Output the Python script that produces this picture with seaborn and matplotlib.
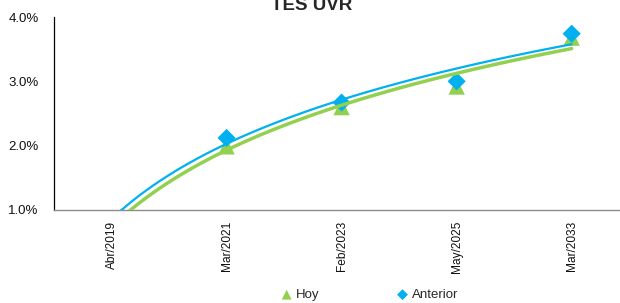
import numpy as np
import pandas as pd
import matplotlib
matplotlib.use("Agg")
import matplotlib.pyplot as plt
import seaborn as sns
from matplotlib.ticker import FuncFormatter

# data (percent); Abr/2019 sits below the 1% floor
fechas = ["Abr/2019", "Mar/2021", "Feb/2023", "May/2025", "Mar/2033"]
hoy = [0.74, 1.99, 2.60, 2.92, 3.68]
anterior = [0.85, 2.12, 2.67, 3.00, 3.74]

VERDE = "#92D050"
AZUL = "#00B0F0"

sns.set_style("white")
plt.rcParams["font.family"] = ["Liberation Sans", "DejaVu Sans"]

df = pd.DataFrame({"pos": np.arange(len(fechas)), "fecha": fechas,
                   "Hoy": hoy, "Anterior": anterior})


def log_trend(y):
    # Excel style logarithmic trendline: y = a*ln(x) + b with x = 1..n
    x = np.arange(1, len(y) + 1)
    a, b = np.polyfit(np.log(x), y, 1)
    xs = np.linspace(1, len(y), 200)
    return pd.DataFrame({"pos": xs - 1, "val": a * np.log(xs) + b})


fig = plt.figure(figsize=(6.2, 3.03), dpi=100)
ax = fig.add_axes([54 / 620, 93 / 303, 566 / 620, 193 / 303])

sns.scatterplot(data=df, x="pos", y="Hoy", marker="^", s=140, color=VERDE,
                edgecolor="none", ax=ax, label="Hoy", zorder=3)
sns.scatterplot(data=df, x="pos", y="Anterior", marker="D", s=85, color=AZUL,
                edgecolor="none", ax=ax, label="Anterior", zorder=3)

sns.lineplot(data=log_trend(hoy), x="pos", y="val", color=VERDE, lw=2.5,
             ax=ax, legend=False, zorder=4)
sns.lineplot(data=log_trend(anterior), x="pos", y="val", color=AZUL, lw=1.6,
             ax=ax, legend=False, zorder=5)

ax.set_xlim(-0.5, 4.42)
ax.set_ylim(1.0, 4.0)
ax.set_yticks([1, 2, 3, 4])
ax.yaxis.set_major_formatter(FuncFormatter(lambda v, p: f"{v:.1f}%"))
ax.set_xticks(df["pos"])
ax.set_xticklabels(fechas, rotation=90, fontsize=8.6)
ax.set_yticklabels([f"{v:.1f}%" for v in [1, 2, 3, 4]], fontsize=9.5)
ax.tick_params(axis="both", length=0, colors="#111111")
ax.tick_params(axis="y", pad=11)
ax.tick_params(axis="x", pad=8)
ax.set_xlabel("")
ax.set_ylabel("")

for s in ["top", "right"]:
    ax.spines[s].set_visible(False)
ax.spines["left"].set_color("black")
ax.spines["left"].set_linewidth(0.9)
ax.spines["bottom"].set_color("#8c8c8c")
ax.spines["bottom"].set_linewidth(1.0)

ax.get_legend().remove()
h, l = ax.get_legend_handles_labels()
leg = fig.legend(h, l, loc="center", bbox_to_anchor=(0.590, 1 - 295 / 303),
                 ncol=2, frameon=False, fontsize=9.5, handletextpad=-0.3,
                 columnspacing=5.3, markerscale=0.6, borderpad=0)

# title is partly clipped by the top edge, as in the source image
fig.text(0.503, 1 - 10 / 303, "TES UVR", ha="center", va="baseline",
         fontsize=13.5, fontweight="bold")

fig.savefig("out.png", dpi=100)
